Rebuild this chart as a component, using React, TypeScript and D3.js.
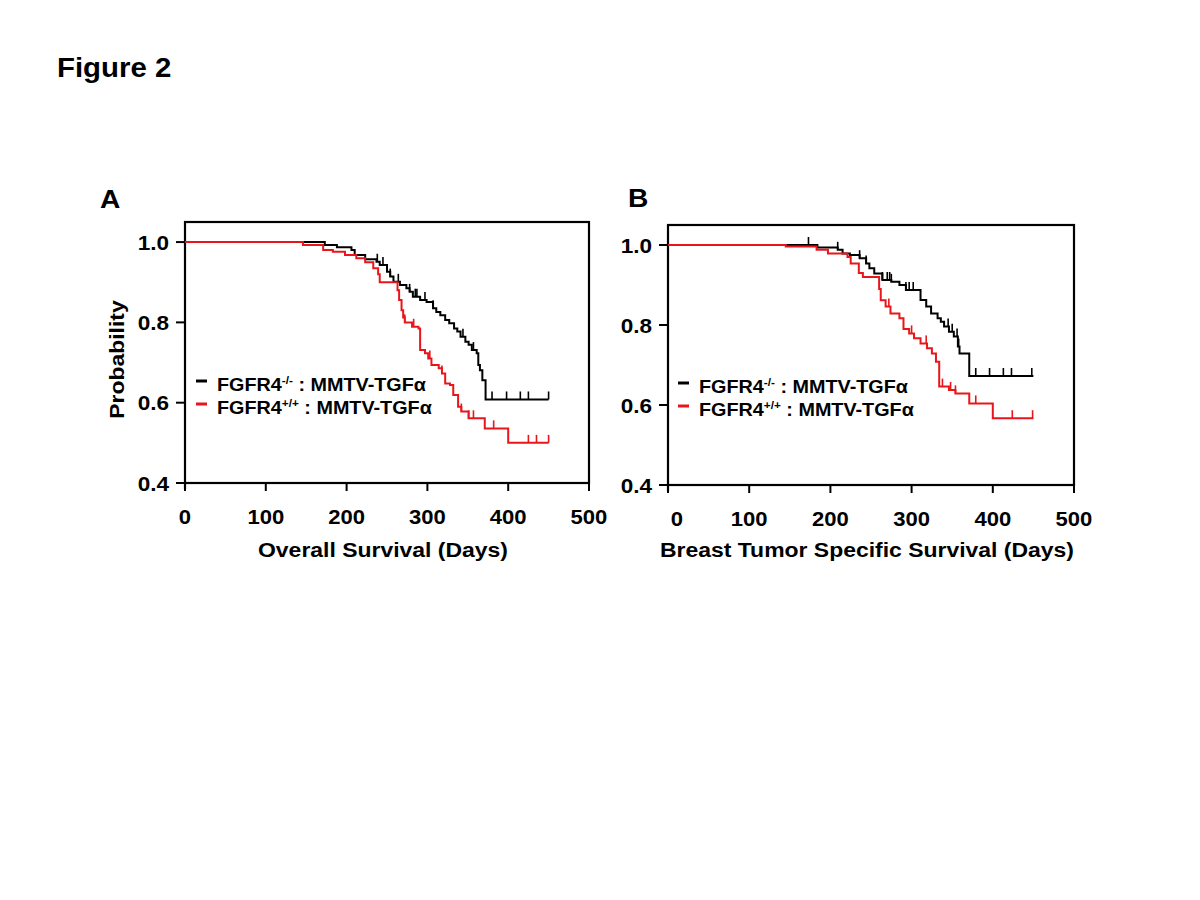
import React from "react";
import * as d3 from "d3";

// ---------- data ----------
const X_TICKS = [0, 100, 200, 300, 400, 500];
const Y_TICKS = [0.4, 0.6, 0.8, 1.0];
const FOLLOW_UP_END = 450;

// Panel A: overall survival  [day, survival]
const A_KO_STEPS: [number, number][] = [
  [0, 1], [173, 0.993], [188, 0.987], [206, 0.98], [210, 0.968], [223, 0.957], [237, 0.951],
  [241, 0.943], [250, 0.926], [254, 0.914], [258, 0.901], [266, 0.893], [274, 0.885],
  [278, 0.876], [282, 0.864], [291, 0.856], [299, 0.851], [307, 0.835], [311, 0.826],
  [316, 0.818], [322, 0.806], [327, 0.798], [333, 0.785], [337, 0.777], [341, 0.764],
  [347, 0.752], [351, 0.744], [355, 0.731], [361, 0.723], [363, 0.694], [365, 0.681],
  [368, 0.656], [372, 0.608],
];
const A_KO_CENSOR = [238, 245, 254, 264, 278, 285, 287, 297, 307, 344, 357, 380, 398, 415, 425, 450];
const A_WT_STEPS: [number, number][] = [
  [0, 1], [146, 0.993], [171, 0.98], [183, 0.976], [198, 0.968], [212, 0.96], [223, 0.95],
  [233, 0.935], [239, 0.92], [241, 0.9], [263, 0.88], [265, 0.856], [268, 0.83], [270, 0.812],
  [272, 0.8], [281, 0.789], [289, 0.785], [291, 0.731], [297, 0.723], [301, 0.71], [305, 0.694],
  [314, 0.686], [318, 0.673], [322, 0.648], [328, 0.644], [332, 0.619], [338, 0.59],
  [342, 0.578], [351, 0.561], [371, 0.536], [400, 0.5],
];
const A_WT_CENSOR = [272, 283, 303, 318, 342, 351, 357, 382, 425, 435, 450];

// Panel B: breast tumor specific survival
const B_KO_STEPS: [number, number][] = [
  [0, 1], [184, 0.994], [209, 0.988], [215, 0.979], [224, 0.975], [236, 0.967], [244, 0.954],
  [248, 0.942], [254, 0.929], [264, 0.9125], [275, 0.908], [285, 0.9], [293, 0.8875],
  [311, 0.8625], [318, 0.846], [324, 0.829], [332, 0.817], [336, 0.808], [340, 0.796],
  [346, 0.783], [352, 0.771], [357, 0.746], [359, 0.729], [371, 0.6725],
];
const B_KO_CENSOR = [173, 209, 236, 244, 264, 270, 273, 275, 293, 297, 302, 345, 350, 356, 358, 379, 396, 413, 423, 448];
const B_WT_STEPS: [number, number][] = [
  [0, 1], [145, 0.996], [183, 0.988], [197, 0.979], [221, 0.97], [225, 0.954], [235, 0.93],
  [240, 0.92], [260, 0.89], [262, 0.862], [268, 0.846], [274, 0.829], [285, 0.817],
  [290, 0.79], [297, 0.779], [303, 0.767], [311, 0.754], [319, 0.742], [325, 0.729],
  [330, 0.708], [334, 0.646], [346, 0.6375], [354, 0.629], [371, 0.604], [400, 0.567],
];
const B_WT_CENSOR = [272, 300, 318, 338, 348, 354, 379, 424, 449];

const LEGEND_ROWS = [
  { gene: "FGFR4", sup: "-/-", rest: " : MMTV-TGFα", key: "ko" },
  { gene: "FGFR4", sup: "+/+", rest: " : MMTV-TGFα", key: "wt" },
];

const COLORS: Record<string, string> = { ko: "#000000", wt: "#e8161b" };
const FONT = "'Liberation Sans', Arial, Helvetica, sans-serif";

// ---------- helpers ----------
function survAt(steps: [number, number][], d: number) {
  let s = steps[0][1];
  for (const [day, v] of steps) if (day <= d) s = v;
  return s;
}

function T(props: {
  x: number; y: number; fs: number; sx?: number; anchor?: string; rotate?: number;
  fill?: string; children: React.ReactNode;
}) {
  const { x, y, fs, sx = 1, anchor = "start", rotate = 0, fill = "#000", children } = props;
  return (
    <text
      transform={`translate(${x},${y}) rotate(${rotate}) scale(${sx},1)`}
      fontSize={fs}
      fontWeight="bold"
      fontFamily={FONT}
      textAnchor={anchor}
      fill={fill}
    >
      {children}
    </text>
  );
}

type Layout = {
  left: number; right: number; top: number; bottom: number;
  letter: string; letterX: number; letterY: number;
  title: string; titleX: number;
  ylabel?: string;
  legendX: number; legendY: number; zeroDx: number;
};

function Panel({ L, series }: {
  L: Layout;
  series: { key: string; steps: [number, number][]; censor: number[] }[];
}) {
  const x = d3.scaleLinear().domain([0, 500]).range([L.left, L.right]);
  const y = d3.scaleLinear().domain([0.4, 1.05]).range([L.bottom, L.top]);
  const line = d3
    .line<[number, number]>()
    .x((d) => x(d[0]))
    .y((d) => y(d[1]))
    .curve(d3.curveStepAfter);

  return (
    <g>
      {/* frame */}
      <rect
        x={L.left}
        y={L.top}
        width={L.right - L.left}
        height={L.bottom - L.top}
        fill="none"
        stroke="#000"
        strokeWidth={2.2}
      />
      <line x1={L.left} x2={L.left} y1={L.bottom} y2={L.bottom + 6} stroke="#000" strokeWidth={2.2} />
      {/* x ticks */}
      {X_TICKS.map((t) => (
        <g key={"x" + t}>
          <line x1={x(t)} x2={x(t)} y1={L.bottom} y2={L.bottom + 8} stroke="#000" strokeWidth={2} />
          <T x={x(t) + (t === 0 ? L.zeroDx : 0)} y={L.bottom + 41} fs={21} sx={1.05} anchor="middle">
            {String(t)}
          </T>
        </g>
      ))}
      {/* y ticks */}
      {Y_TICKS.map((t) => (
        <g key={"y" + t}>
          <line x1={L.left - 9} x2={L.left} y1={y(t)} y2={y(t)} stroke="#000" strokeWidth={2} />
          <T x={L.left - 16} y={y(t) + 7.5} fs={20.5} sx={1.1} anchor="end">
            {t.toFixed(1)}
          </T>
        </g>
      ))}
      {/* curves */}
      {series.map((s) => {
        const pts: [number, number][] = [...s.steps, [FOLLOW_UP_END, s.steps[s.steps.length - 1][1]]];
        return (
          <g key={s.key}>
            <path d={line(pts) || ""} fill="none" stroke={COLORS[s.key]} strokeWidth={2} />
            {s.censor.map((c, i) => (
              <line
                key={i}
                x1={x(c)}
                x2={x(c)}
                y1={y(survAt(s.steps, c))}
                y2={y(survAt(s.steps, c)) - 8}
                stroke={COLORS[s.key]}
                strokeWidth={1.6}
              />
            ))}
          </g>
        );
      })}
      {/* legend */}
      {LEGEND_ROWS.map((r, i) => {
        const by = L.legendY + i * 23;
        return (
          <g key={r.key}>
            <line
              x1={L.legendX}
              x2={L.legendX + 11}
              y1={by - 10}
              y2={by - 10}
              stroke={COLORS[r.key]}
              strokeWidth={3}
            />
            <T x={L.legendX + 21} y={by} fs={18.5} sx={1.07}>
              {r.gene}
              <tspan fontSize={11} dy={-7}>{r.sup}</tspan>
              <tspan dy={7}>{r.rest}</tspan>
            </T>
          </g>
        );
      })}
      {/* titles */}
      <T x={L.titleX} y={557} fs={20.5} sx={1.12} anchor="middle">{L.title}</T>
      <T x={L.letterX} y={L.letterY} fs={25.6} sx={1.1}>{L.letter}</T>
      {L.ylabel && (
        <T x={124} y={(L.top + L.bottom) / 2 + 7} fs={20.5} sx={1.12} anchor="middle" rotate={-90}>
          {L.ylabel}
        </T>
      )}
    </g>
  );
}

const LAYOUT_A: Layout = {
  left: 185, right: 589, top: 222, bottom: 483,
  letter: "A", letterX: 100, letterY: 208,
  title: "Overall Survival (Days)", titleX: 383,
  ylabel: "Probability",
  legendX: 196, legendY: 391, zeroDx: 0,
};
const LAYOUT_B: Layout = {
  left: 668, right: 1074, top: 225, bottom: 485,
  letter: "B", letterX: 628, letterY: 207,
  title: "Breast Tumor Specific Survival (Days)", titleX: 867,
  legendX: 678, legendY: 393, zeroDx: 9,
};

export default function App() {
  return (
    <svg
      width={1200}
      height={900}
      style={{ position: "absolute", left: 0, top: 0, background: "#fff" }}
    >
      <rect width={1200} height={900} fill="#fff" />
      <T x={57} y={77} fs={28} sx={1.05}>Figure 2</T>
      <Panel
        L={LAYOUT_A}
        series={[
          { key: "ko", steps: A_KO_STEPS, censor: A_KO_CENSOR },
          { key: "wt", steps: A_WT_STEPS, censor: A_WT_CENSOR },
        ]}
      />
      <Panel
        L={LAYOUT_B}
        series={[
          { key: "ko", steps: B_KO_STEPS, censor: B_KO_CENSOR },
          { key: "wt", steps: B_WT_STEPS, censor: B_WT_CENSOR },
        ]}
      />
    </svg>
  );
}
